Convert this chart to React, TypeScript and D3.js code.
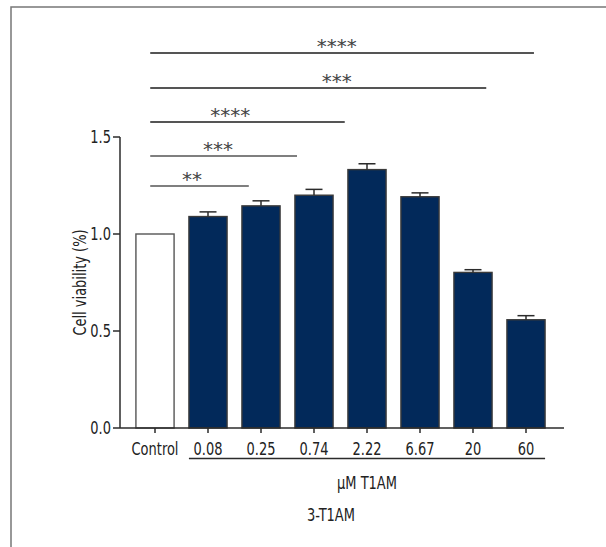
import React from "react";
import * as d3 from "d3";

// Cell viability after 3-T1AM treatment (relative to control)
const categories = ["Control", "0.08", "0.25", "0.74", "2.22", "6.67", "20", "60"];
const means = [1.0, 1.09, 1.145, 1.2, 1.332, 1.192, 0.802, 0.558];
const sems = [0, 0.024, 0.026, 0.03, 0.03, 0.02, 0.014, 0.021];
const yTicks = [0, 0.5, 1.0, 1.5];

// Significance brackets: start/end/label positions in category-index units, level in y units
const bracketLabels = ["**", "***", "****", "***", "****"];
const bracketLevels = [1.247, 1.402, 1.577, 1.753, 1.933];
const bracketStarts = [-0.09, -0.09, -0.09, -0.09, -0.09];
const bracketEnds = [1.77, 2.68, 3.58, 6.25, 7.15];
const bracketLabelAt = [0.7, 1.19, 1.42, 3.43, 3.43];

const W = 606;
const H = 547;
const plotLeft = 120;
const plotRight = 564;
const plotBottom = 428;
const plotTop = 137;

const FONT = "'DejaVu Sans Condensed', 'Liberation Sans Narrow', sans-serif";
const BAR_FILL = "#02295a";
const INK = "#2b2b2b";
const SQUEEZE = 0.85;

// Tall, narrow text: condensed face squeezed horizontally around its anchor point
function Label({
  x,
  y,
  anchor = "middle",
  size = 17,
  rotate = 0,
  dy,
  children,
}: {
  x: number;
  y: number;
  anchor?: string;
  size?: number;
  rotate?: number;
  dy?: string;
  children: React.ReactNode;
}) {
  return (
    <text
      transform={`translate(${x},${y}) rotate(${rotate}) scale(${SQUEEZE},1)`}
      textAnchor={anchor}
      fontSize={size}
      dy={dy}
      fill="#222"
    >
      {children}
    </text>
  );
}

export default function App() {
  const x = d3
    .scaleBand<string>()
    .domain(categories)
    .range([plotLeft + 8.5, plotRight - 11.5])
    .paddingInner(0.28)
    .paddingOuter(0.14);

  const y = d3.scaleLinear().domain([0, 1.5]).range([plotBottom, plotTop]);

  const center = (c: string) => (x(c) ?? 0) + x.bandwidth() / 2;
  const idxPos = d3
    .scaleLinear()
    .domain([0, categories.length - 1])
    .range([center(categories[0]), center(categories[categories.length - 1])]);

  const treated = categories.slice(1);
  const underlineStart = x(treated[0]) ?? 0;
  const underlineEnd = (x(treated[treated.length - 1]) ?? 0) + x.bandwidth();
  const treatedMid = (underlineStart + underlineEnd) / 2;

  return (
    <svg
      width={W}
      height={H}
      style={{ position: "fixed", left: 0, top: 0, background: "#fff" }}
      fontFamily={FONT}
    >
      <rect x={0} y={0} width={W} height={H} fill="#fff" />
      {/* panel frame */}
      <path d={`M11,${H} V7 H${W}`} fill="none" stroke="#777" strokeWidth={1.5} />

      {/* bars */}
      {categories.map((c, i) => (
        <rect
          key={c}
          x={x(c)}
          y={y(means[i])}
          width={x.bandwidth()}
          height={y(0) - y(means[i])}
          fill={i === 0 ? "#fff" : BAR_FILL}
          stroke={i === 0 ? "#555" : "#3a3a3a"}
          strokeWidth={1.4}
        />
      ))}

      {/* error bars (upper) */}
      {categories.map((c, i) =>
        sems[i] > 0 ? (
          <g key={`e-${c}`} stroke={INK} strokeWidth={1.5}>
            <line x1={center(c)} x2={center(c)} y1={y(means[i])} y2={y(means[i] + sems[i])} />
            <line
              x1={center(c) - 8.5}
              x2={center(c) + 8.5}
              y1={y(means[i] + sems[i])}
              y2={y(means[i] + sems[i])}
            />
          </g>
        ) : null
      )}

      {/* y axis */}
      <line x1={plotLeft} x2={plotLeft} y1={y(0)} y2={y(1.5)} stroke={INK} strokeWidth={1.5} />
      {yTicks.map((t) => (
        <g key={`yt-${t}`}>
          <line x1={plotLeft - 7} x2={plotLeft} y1={y(t)} y2={y(t)} stroke={INK} strokeWidth={1.5} />
          <Label x={plotLeft - 9} y={y(t)} dy="0.36em" anchor="end">
            {d3.format(".1f")(t)}
          </Label>
        </g>
      ))}
      <Label x={86} y={(y(0) + y(1.5)) / 2} rotate={-90} size={17}>
        Cell viability (%)
      </Label>

      {/* x axis */}
      <line x1={plotLeft} x2={plotRight} y1={y(0)} y2={y(0)} stroke={INK} strokeWidth={1.5} />
      {categories.map((c) => (
        <g key={`xt-${c}`}>
          <line x1={center(c)} x2={center(c)} y1={y(0)} y2={y(0) + 5} stroke={INK} strokeWidth={1.5} />
          <Label x={center(c)} y={455}>
            {c}
          </Label>
        </g>
      ))}
      <line x1={underlineStart} x2={underlineEnd} y1={458.5} y2={458.5} stroke={INK} strokeWidth={1.3} />
      <Label x={treatedMid} y={489}>
        μM T1AM
      </Label>
      <Label x={331} y={521}>
        3-T1AM
      </Label>

      {/* significance brackets */}
      {bracketLabels.map((lab, i) => (
        <g key={`b-${i}`}>
          <line
            x1={idxPos(bracketStarts[i])}
            x2={idxPos(bracketEnds[i])}
            y1={y(bracketLevels[i])}
            y2={y(bracketLevels[i])}
            stroke="#555"
            strokeWidth={i >= 2 ? 2 : 1.5}
          />
          <text
            x={idxPos(bracketLabelAt[i])}
            y={y(bracketLevels[i])}
            textAnchor="middle"
            fontSize={20}
            fill="#444"
            fontFamily="'DejaVu Sans', sans-serif"
          >
            {lab}
          </text>
        </g>
      ))}
    </svg>
  );
}
